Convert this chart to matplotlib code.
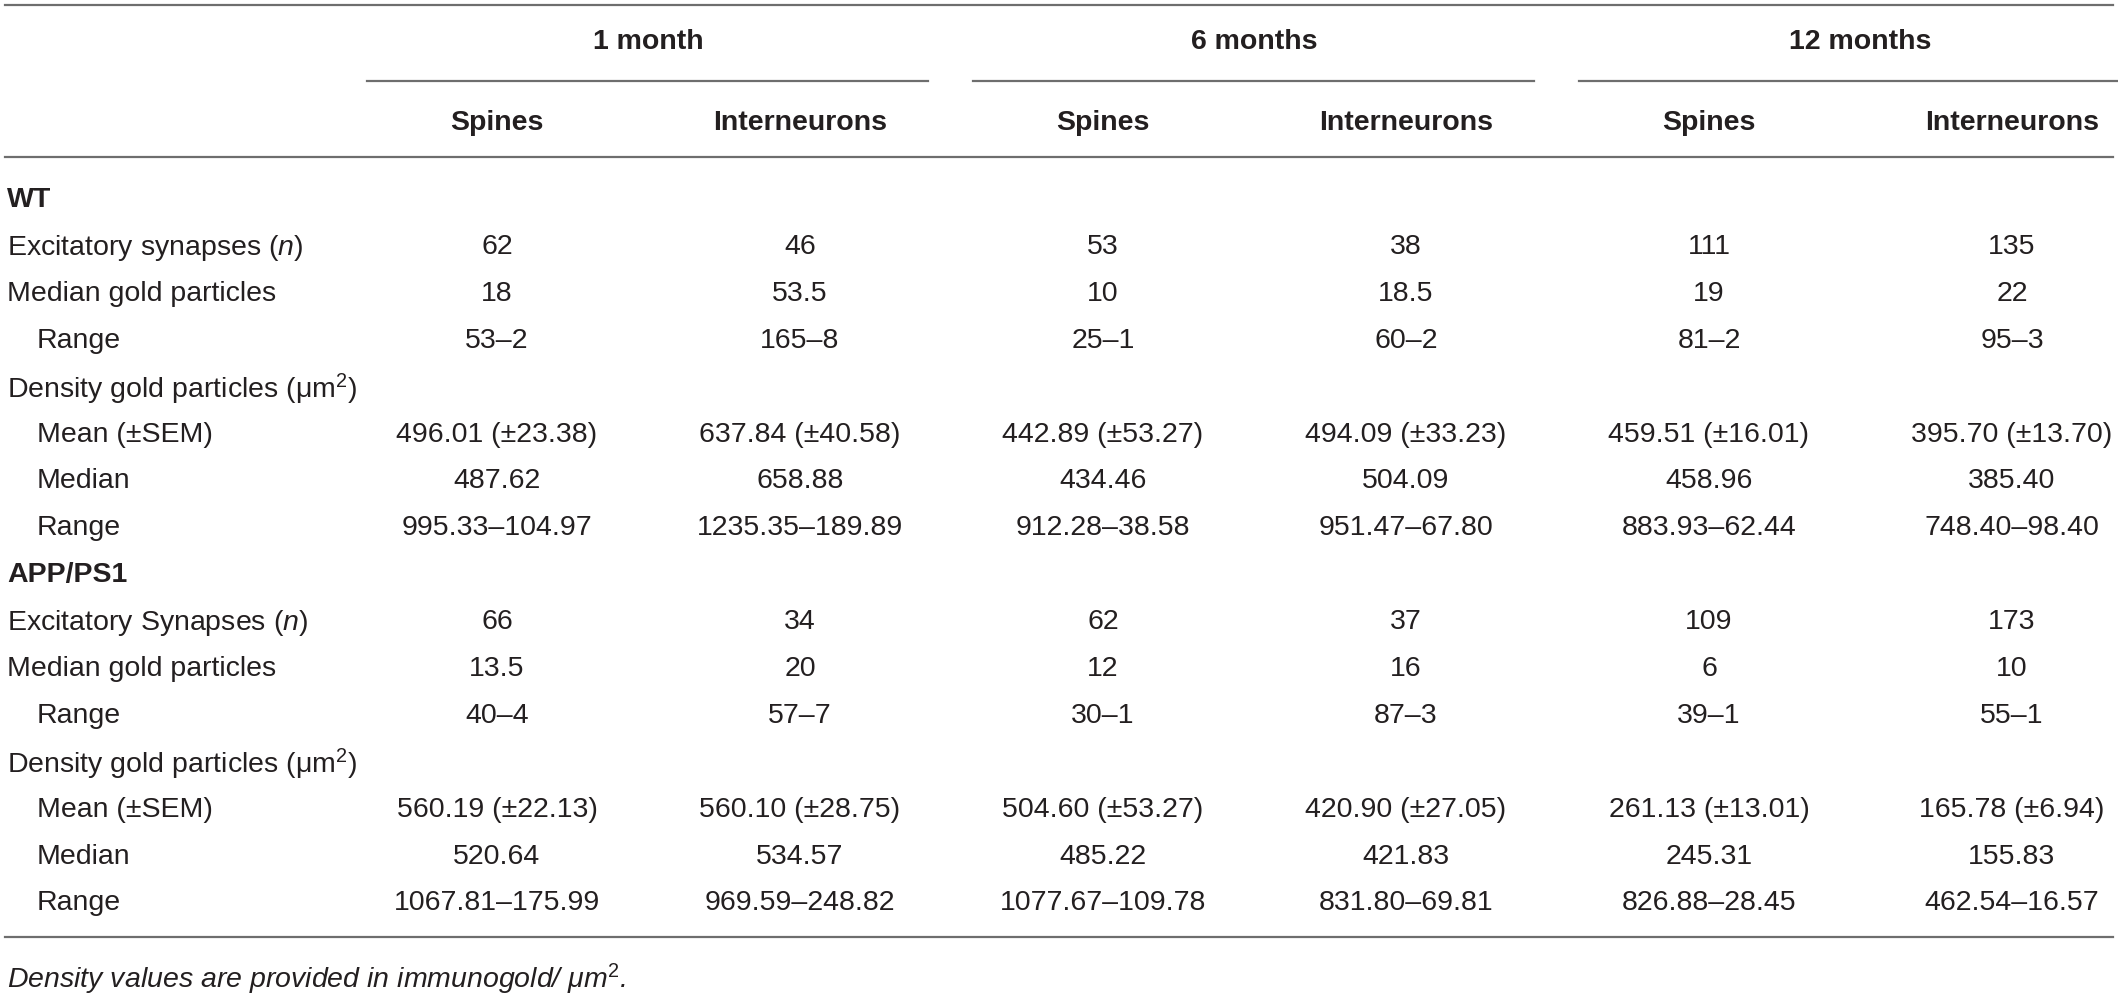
import matplotlib
matplotlib.use("Agg")
import matplotlib.pyplot as plt
from matplotlib import font_manager

# pick a narrow sans if present, the reference uses a condensed Helvetica
names = {f.name for f in font_manager.fontManager.ttflist}
if "Liberation Sans Narrow" in names:
    FONT = "Liberation Sans Narrow"
else:
    FONT = "Liberation Sans"
plt.rcParams["font.family"] = [FONT, "DejaVu Sans"]
plt.rcParams["mathtext.fontset"] = "custom"
plt.rcParams["mathtext.rm"] = FONT
plt.rcParams["mathtext.it"] = FONT + ":italic"

groups = ["1 month", "6 months", "12 months"]
subcols = ["Spines", "Interneurons"] * 3

wt_exc = ["62", "46", "53", "38", "111", "135"]
wt_med = ["18", "53.5", "10", "18.5", "19", "22"]
wt_rng = ["53\u20132", "165\u20138", "25\u20131", "60\u20132", "81\u20132", "95\u20133"]
wt_mean = ["496.01 (\u00b123.38)", "637.84 (\u00b140.58)", "442.89 (\u00b153.27)",
           "494.09 (\u00b133.23)", "459.51 (\u00b116.01)", "395.70 (\u00b113.70)"]
wt_dmed = ["487.62", "658.88", "434.46", "504.09", "458.96", "385.40"]
wt_drng = ["995.33\u2013104.97", "1235.35\u2013189.89", "912.28\u201338.58",
           "951.47\u201367.80", "883.93\u201362.44", "748.40\u201398.40"]

app_exc = ["66", "34", "62", "37", "109", "173"]
app_med = ["13.5", "20", "12", "16", "6", "10"]
app_rng = ["40\u20134", "57\u20137", "30\u20131", "87\u20133", "39\u20131", "55\u20131"]
app_mean = ["560.19 (\u00b122.13)", "560.10 (\u00b128.75)", "504.60 (\u00b153.27)",
            "420.90 (\u00b127.05)", "261.13 (\u00b113.01)", "165.78 (\u00b16.94)"]
app_dmed = ["520.64", "534.57", "485.22", "421.83", "245.31", "155.83"]
app_drng = ["1067.81\u2013175.99", "969.59\u2013248.82", "1077.67\u2013109.78",
            "831.80\u201369.81", "826.88\u201328.45", "462.54\u201316.57"]

density_label = "Density gold particles (\u03bcm$^{2}$)"
rows = [
    ("WT", None, "bold", 0),
    ("Excitatory synapses ($\\it{n}$)", wt_exc, "normal", 0),
    ("Median gold particles", wt_med, "normal", 0),
    ("Range", wt_rng, "normal", 1),
    (density_label, None, "normal", 0),
    ("Mean (\u00b1SEM)", wt_mean, "normal", 1),
    ("Median", wt_dmed, "normal", 1),
    ("Range", wt_drng, "normal", 1),
    ("APP/PS1", None, "bold", 0),
    ("Excitatory Synapses ($\\it{n}$)", app_exc, "normal", 0),
    ("Median gold particles", app_med, "normal", 0),
    ("Range", app_rng, "normal", 1),
    (density_label, None, "normal", 0),
    ("Mean (\u00b1SEM)", app_mean, "normal", 1),
    ("Median", app_dmed, "normal", 1),
    ("Range", app_drng, "normal", 1),
]
footnote = "Density values are provided in immunogold/ \u03bcm$^{2}$."

W, H = 2118, 995
fig = plt.figure(figsize=(W / 100, H / 100), dpi=100)
ax = fig.add_axes([0, 0, 1, 1])
ax.set_xlim(0, W)
ax.set_ylim(H, 0)
ax.axis("off")

txt = "#231f20"
linec = "#6e6e6e"
fs = 20.5

col0 = 497
step = 303
left = 7
indent = 30
row0 = 197
rstep = 46.9

# rules
ax.plot([5, 2113], [6, 6], color=linec, lw=1.6)
ax.plot([5, 2113], [158, 158], color=linec, lw=1.6)
ax.plot([5, 2113], [938, 938], color=linec, lw=1.6)
for g, name in enumerate(groups):
    c1 = col0 + 2 * g * step
    c2 = c1 + step
    mid = (c1 + c2) / 2
    ax.text(mid, 42, name, ha="center", va="center", fontsize=fs,
            fontweight="bold", color=txt)
    ax.plot([c1 - 130, c2 + 128], [82, 82], color=linec, lw=1.6)

for i, s in enumerate(subcols):
    ax.text(col0 + i * step, 123, s, ha="center", va="center", fontsize=fs,
            fontweight="bold", color=txt)

for r, (label, vals, weight, ind) in enumerate(rows):
    y = row0 + r * rstep
    ax.text(left + ind * indent, y, label, ha="left", va="center_baseline",
            fontsize=fs, fontweight=weight, color=txt)
    if vals:
        for i, v in enumerate(vals):
            ax.text(col0 + i * step, y, v, ha="center", va="center_baseline",
                    fontsize=fs, color=txt)

ax.text(left, 975, footnote, ha="left", va="center_baseline", fontsize=fs,
        style="italic", color=txt)

fig.savefig("out.png", dpi=100)
